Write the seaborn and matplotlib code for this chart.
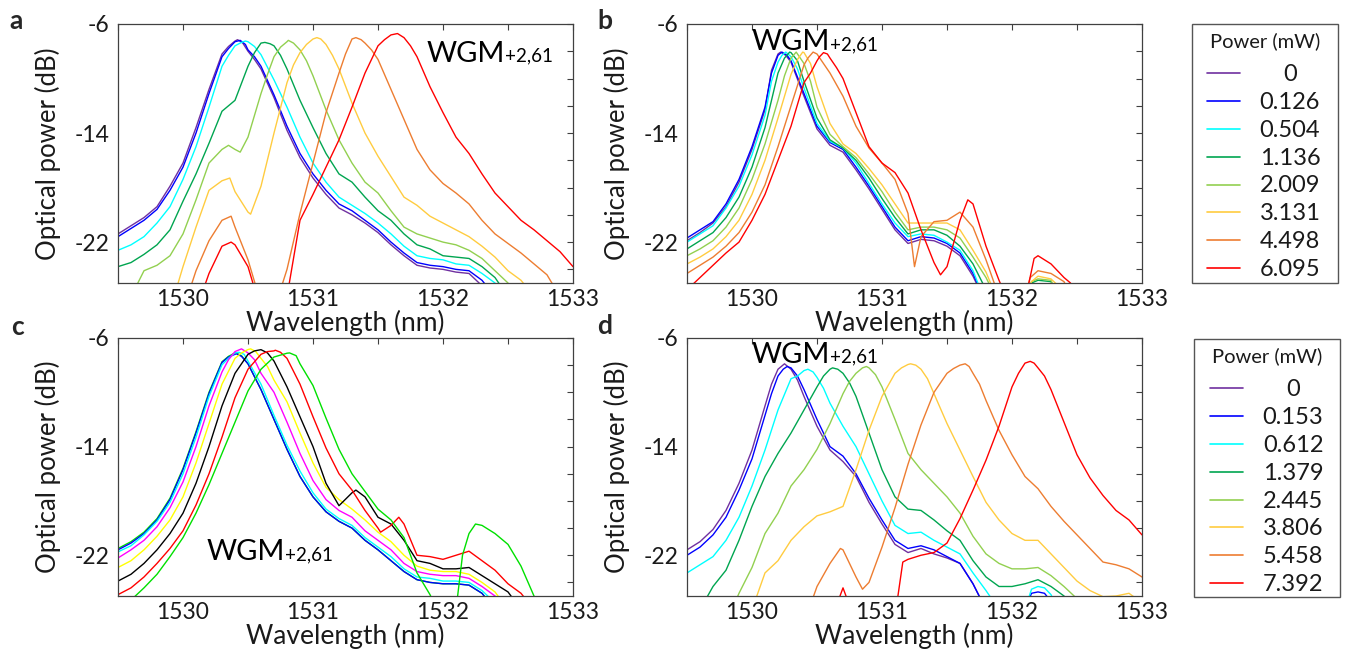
import matplotlib
matplotlib.use('Agg')
import matplotlib.pyplot as plt
import seaborn as sns
import pandas as pd
from matplotlib.ticker import MultipleLocator, FuncFormatter
from matplotlib.lines import Line2D
from matplotlib.patches import Rectangle

sns.set_theme(style='white')
plt.rcParams['font.family'] = ['Lato', 'DejaVu Sans']
plt.rcParams['axes.unicode_minus'] = False

# Common wavelength grid (nm)
wavelength = [1529.5, 1529.6, 1529.7, 1529.8, 1529.9, 1530.0, 1530.1, 1530.2, 1530.3, 1530.4,
              1530.5, 1530.6, 1530.7, 1530.8, 1530.9, 1531.0, 1531.1, 1531.2, 1531.3, 1531.4,
              1531.5, 1531.6, 1531.7, 1531.8, 1531.9, 1532.0, 1532.1, 1532.2, 1532.3, 1532.4,
              1532.5, 1532.6, 1532.7, 1532.8, 1532.9, 1533.0]

# ---------------- panel a ----------------
power_a = ['0', '0.126', '0.504', '1.136', '2.009', '3.131', '4.498', '6.095']
colors_ab = ['#7030a0', '#0000ff', '#00ffff', '#00a550', '#92d050', '#ffcc40', '#ed7d31', '#ff0000']
spec_a = [
    [-21.4, -20.8, -20.2, -19.4, -17.9, -16.2, -13.6, -10.8, -8.2, -7.25, -8.0, -9.3, -11.4, -13.8, -15.8,
     -17.3, -18.5, -19.5, -20.0, -20.6, -21.3, -22.2, -23.0, -23.7, -23.9, -24.0, -24.2, -24.3, -25.2, -26.5],
    [-21.6, -21.0, -20.4, -19.6, -18.2, -16.5, -14.0, -11.1, -8.4, -7.3, -7.9, -9.1, -11.2, -13.5, -15.5,
     -17.0, -18.2, -19.2, -19.7, -20.4, -21.1, -22.0, -22.8, -23.5, -23.7, -23.8, -24.0, -24.1, -24.8, -26.0],
    [-22.6, -22.2, -21.6, -20.6, -19.4, -17.4, -15.0, -12.1, -9.1, -7.6, -7.3, -8.25, -10.1, -12.1, -14.3,
     -16.2, -17.6, -18.7, -19.3, -19.9, -20.6, -21.4, -22.3, -23.0, -23.2, -23.3, -23.6, -23.7, -24.3, -25.0, -26.5],
    [-23.8, -23.5, -22.9, -22.2, -21.1, -19.0, -17.0, -14.75, -12.4, -11.6, -9.1, -7.4, -7.6, -9.3, -11.6,
     -13.6, -15.5, -17.0, -17.6, -18.7, -19.7, -20.4, -21.4, -22.2, -22.5, -23.0, -23.1, -23.2, -23.8, -24.6, -26.0],
    [-27, -26.0, -24.1, -23.7, -23.0, -21.4, -18.9, -16.2, -15.2, -15.2, -14.3, -11.1, -8.4, -7.3, -7.9,
     -9.8, -12.3, -14.5, -16.2, -17.6, -18.4, -19.7, -20.9, -21.4, -21.7, -22.0, -22.2, -22.6, -23.2, -24.1,
     -25.0, -26.5],
    [-27, -27, -27, -27, -27, -23.8, -20.9, -18.2, -17.5, -18.3, -19.8, -17.9, -14.0, -10.3, -8.1,
     -7.1, -7.5, -9.3, -11.8, -14.0, -15.7, -17.2, -18.7, -19.3, -20.1, -20.6, -21.1, -21.6, -22.3, -23.1,
     -24.1, -24.8, -26.0],
    [-27, -27, -27, -27, -27, -27, -24.1, -21.9, -20.4, -20.9, -23.3, -26.5, -27, -24.0, -19.9,
     -16.2, -12.5, -9.6, -7.1, -7.4, -8.6, -10.8, -13.0, -15.2, -16.7, -17.7, -18.4, -19.2, -20.4, -21.4,
     -22.1, -22.8, -23.6, -24.4, -26.0],
    [-27, -27, -27, -27, -27, -27, -27, -24.3, -22.3, -22.2, -23.8, -27, -27, -26.0, -20.4,
     -18.5, -16.5, -14.5, -12.1, -9.6, -7.6, -6.8, -7.0, -8.4, -10.6, -12.5, -14.3, -15.5, -17.0, -18.4,
     -19.4, -20.4, -21.1, -21.9, -22.7, -23.8],
]
# extra points read around peaks and narrow features
peaks_a = [
    [(1530.35, -7.65), (1530.42, -7.15), (1530.46, -7.4), (1530.55, -8.6)],
    [(1530.35, -7.8), (1530.44, -7.2), (1530.48, -7.5), (1530.55, -8.4)],
    [(1530.35, -8.3), (1530.45, -7.35), (1530.48, -7.25), (1530.55, -7.65)],
    [(1530.55, -8.1), (1530.63, -7.35), (1530.67, -7.45), (1530.75, -8.3)],
    [(1530.35, -14.9), (1530.44, -15.4), (1530.65, -9.7), (1530.75, -7.7), (1530.81, -7.2),
     (1530.85, -7.4), (1530.95, -8.7)],
    [(1530.36, -17.3), (1530.52, -19.95), (1530.85, -9.0), (1530.95, -7.5), (1531.03, -7.0),
     (1531.06, -7.1), (1531.15, -8.3)],
    [(1530.37, -20.1), (1531.25, -8.2), (1531.33, -7.0), (1531.37, -7.15), (1531.45, -7.9)],
    [(1530.37, -22.0), (1531.55, -7.15), (1531.65, -6.7), (1531.75, -7.6)],
]

# ---------------- panel b ----------------
spec_b = [
    [-21.9, -21.3, -20.6, -19.4, -17.6, -15.2, -12.3, -8.2, -8.8, -11.3, -13.7, -14.9, -15.4, -16.7, -18.1,
     -19.6, -21.1, -22.1, -21.8, -21.9, -22.3, -23.0, -24.5, -26.5],
    [-21.7, -21.1, -20.5, -19.2, -17.4, -15.0, -12.1, -8.3, -8.7, -11.1, -13.5, -14.7, -15.2, -16.5, -17.9,
     -19.4, -20.9, -21.9, -21.6, -21.7, -22.1, -22.8, -24.3, -26.5],
    [-22.0, -21.4, -20.8, -19.5, -17.9, -15.6, -12.7, -8.8, -8.4, -10.7, -13.3, -14.6, -15.1, -16.2, -17.7,
     -19.2, -20.6, -21.6, -21.4, -21.5, -22.0, -22.6, -24.1, -26.5],
    [-22.5, -21.9, -21.3, -20.2, -18.7, -16.5, -13.6, -9.6, -8.1, -10.2, -12.9, -14.5, -15.1, -16.0, -17.3,
     -18.8, -20.2, -21.4, -21.1, -21.1, -21.5, -22.3, -23.6, -25.5, -27, -27, -26.0, -24.8, -24.9, -27],
    [-23.0, -22.5, -21.9, -20.9, -19.5, -17.4, -14.8, -11.6, -8.5, -8.9, -12.1, -14.1, -15.0, -15.8, -17.0,
     -18.3, -19.8, -21.1, -20.9, -20.9, -21.1, -21.7, -23.1, -24.6, -26.5, -27, -26.0, -24.7, -24.8, -27],
    [-23.6, -23.1, -22.5, -21.6, -20.4, -18.5, -16.0, -12.9, -9.7, -8.1, -10.6, -13.3, -14.8, -15.5, -16.6,
     -17.8, -19.2, -20.6, -20.6, -20.6, -20.6, -21.1, -22.6, -24.2, -26.5, -27, -26.0, -24.5, -24.7, -25.6, -27],
    [-24.3, -23.7, -23.1, -22.3, -21.3, -19.8, -17.8, -15.0, -12.0, -9.0, -8.2, -9.6, -11.3, -13.5, -15.1,
     -16.2, -17.4, -19.9, -21.6, -20.5, -20.4, -19.8, -20.9, -23.3, -26.0, -27, -26.0, -24.1, -24.3, -24.9, -27],
    [-25.5, -24.6, -23.7, -22.8, -22.0, -20.4, -18.5, -16.0, -13.5, -10.3, -8.7, -8.5, -10.0, -12.5, -15.0,
     -16.2, -16.9, -18.4, -21.1, -23.5, -23.8, -20.4, -19.2, -22.3, -24.8, -27, -26.0, -23.0, -23.6, -24.6, -27],
]
peaks_b = [
    [(1530.15, -9.4), (1530.22, -8.06), (1530.26, -8.3)],
    [(1530.15, -9.6), (1530.23, -8.06), (1530.27, -8.3)],
    [(1530.15, -10.2), (1530.23, -8.3), (1530.26, -8.06), (1530.35, -9.3)],
    [(1530.25, -8.5), (1530.29, -8.06), (1530.35, -8.7), (1532.15, -25.0)],
    [(1530.25, -9.8), (1530.34, -8.06), (1530.45, -10.2), (1532.15, -24.9)],
    [(1530.35, -8.6), (1530.39, -8.06), (1530.45, -8.9), (1532.15, -24.9)],
    [(1530.43, -8.5), (1530.47, -8.06), (1530.55, -8.9), (1531.25, -23.8), (1532.14, -24.6)],
    [(1530.45, -9.6), (1530.52, -8.4), (1530.55, -8.1), (1530.58, -8.2), (1530.65, -9.2),
     (1531.45, -24.4), (1531.66, -18.9), (1532.13, -25.0), (1532.17, -23.2), (1532.25, -23.3),
     (1532.45, -25.0)],
]

# ---------------- panel c ----------------
colors_c = ['#00e000', '#0000ff', '#00ffff', '#ff00ff', '#ffff00', '#000000', '#ff0000', '#00e000']
spec_c = [
    [-21.5, -21.0, -20.3, -19.3, -17.8, -15.6, -12.9, -10.0, -7.75, -7.1, -7.9, -9.8, -12.0, -14.2, -16.2,
     -17.7, -18.8, -19.5, -20.0, -20.9, -21.6, -22.4, -23.2, -23.8, -24.0, -24.1, -24.1, -24.2, -24.8, -26.0],
    [-21.6, -21.1, -20.4, -19.4, -17.9, -15.7, -13.0, -10.1, -7.8, -7.2, -7.9, -9.8, -12.0, -14.2, -16.2,
     -17.7, -18.8, -19.5, -20.0, -20.9, -21.6, -22.4, -23.2, -23.8, -24.0, -24.1, -24.1, -24.2, -24.8, -26.0],
    [-21.75, -21.3, -20.5, -19.5, -18.1, -16.0, -13.3, -10.3, -7.97, -7.1, -7.7, -9.4, -11.7, -13.9, -15.8,
     -17.4, -18.6, -19.3, -19.8, -20.7, -21.4, -22.1, -23.0, -23.6, -23.7, -23.9, -23.9, -24.0, -24.6, -25.5],
    [-22.2, -21.6, -20.9, -19.9, -18.5, -16.6, -14.0, -11.0, -8.5, -7.0, -7.1, -8.6, -10.0, -12.2, -14.5,
     -16.5, -17.9, -18.7, -19.2, -20.2, -20.9, -21.6, -22.6, -23.2, -23.4, -23.5, -23.5, -23.7, -24.3, -25.0, -26.0],
    [-22.9, -22.4, -21.6, -20.6, -19.4, -17.7, -15.2, -12.3, -9.4, -7.5, -6.85, -7.5, -9.1, -10.7, -13.0,
     -15.2, -17.0, -17.9, -18.6, -19.4, -20.3, -21.0, -22.0, -22.8, -23.1, -23.2, -23.2, -23.4, -24.0, -24.7, -26.0],
    [-23.9, -23.4, -22.6, -21.6, -20.4, -18.9, -16.7, -14.0, -11.0, -8.6, -7.2, -6.86, -7.7, -9.6, -11.8,
     -14.0, -16.7, -18.35, -17.4, -17.7, -19.2, -19.7, -20.9, -22.4, -22.6, -23.0, -23.0, -22.9, -23.5, -24.1,
     -24.7, -26.0],
    [-24.9, -24.4, -23.6, -22.6, -21.5, -20.2, -18.3, -16.0, -13.3, -10.4, -8.3, -7.2, -6.95, -7.5, -9.4,
     -11.8, -14.1, -16.0, -17.2, -18.7, -20.0, -19.8, -19.7, -22.0, -22.1, -22.3, -22.0, -21.7, -22.4, -23.1,
     -24.1, -24.8, -26.0],
    [-26.0, -25.3, -24.4, -23.4, -22.1, -20.7, -18.9, -16.8, -14.5, -12.2, -9.9, -8.3, -7.4, -7.12, -7.9,
     -9.5, -11.9, -14.2, -16.0, -17.3, -18.6, -19.4, -20.7, -23.3, -24.9, -27, -26.0, -20.4, -19.8, -20.4,
     -21.2, -22.8, -25.0, -27],
]
peaks_c = [
    [(1530.35, -7.35), (1530.41, -7.1), (1530.45, -7.3)],
    [(1530.35, -7.4), (1530.41, -7.16), (1530.45, -7.35)],
    [(1530.35, -7.5), (1530.43, -7.05), (1530.47, -7.2)],
    [(1530.35, -7.6), (1530.45, -6.8), (1530.55, -7.6)],
    [(1530.45, -7.1), (1530.52, -6.8), (1530.56, -7.0), (1530.65, -8.1)],
    [(1530.55, -6.95), (1530.65, -7.1), (1531.33, -17.2)],
    [(1530.65, -7.0), (1530.71, -6.9), (1530.75, -7.05), (1531.52, -20.3), (1531.66, -19.2)],
    [(1530.82, -7.1), (1530.87, -7.3), (1532.15, -22.0), (1532.25, -19.7)],
]

# ---------------- panel d ----------------
power_d = ['0', '0.153', '0.612', '1.379', '2.445', '3.806', '5.458', '7.392']
spec_d = [
    [-21.6, -21.0, -20.1, -18.7, -16.7, -14.25, -11.0, -8.3, -8.3, -10.3, -12.5, -14.25, -15.1, -16.2, -18.1,
     -19.7, -21.2, -21.8, -21.5, -21.9, -22.2, -22.6, -24.1, -26.0],
    [-22.0, -21.4, -20.5, -19.2, -17.2, -14.9, -11.7, -8.8, -8.2, -9.8, -12.0, -14.0, -14.7, -16.0, -17.8,
     -19.4, -20.9, -21.5, -21.3, -21.6, -22.1, -22.6, -24.1, -26.0, -27, -27, -26.0, -24.7, -25.4, -27],
    [-23.3, -22.7, -22.1, -20.9, -19.2, -16.9, -14.25, -11.3, -9.0, -8.4, -8.9, -10.8, -12.5, -14.0, -16.0,
     -18.0, -19.8, -20.4, -20.3, -20.9, -21.4, -21.9, -23.3, -24.6, -26.0, -27, -26.0, -24.3, -24.9, -27],
    [-27, -26.0, -24.3, -23.1, -20.9, -18.4, -16.2, -14.5, -13.0, -11.3, -9.6, -8.3, -8.6, -10.3, -13.0,
     -15.7, -17.7, -18.6, -18.7, -19.4, -20.2, -20.9, -22.4, -23.6, -24.3, -24.3, -24.1, -23.8, -24.3, -25.0, -26.0],
    [-27, -27, -27, -27, -24.8, -22.9, -20.4, -18.9, -16.9, -15.7, -14.2, -12.3, -10.1, -8.6, -8.2,
     -9.6, -12.0, -14.5, -15.7, -16.7, -17.7, -18.9, -20.6, -21.9, -22.6, -23.0, -23.0, -22.9, -23.5, -24.3,
     -25.2, -26.5],
    [-27, -27, -27, -27, -27, -26.0, -23.3, -22.4, -20.9, -19.9, -19.1, -18.8, -18.4, -15.7, -12.8,
     -10.3, -8.6, -7.95, -8.3, -10.1, -12.3, -14.25, -16.2, -18.1, -19.4, -20.4, -20.9, -20.9, -21.9, -22.9,
     -23.9, -24.6, -25.05, -25.0, -24.8, -25.5],
    [-27, -27, -27, -27, -27, -27, -27, -27, -27, -27, -24.3, -22.6, -21.6, -23.6, -24.0,
     -21.4, -18.5, -15.3, -12.4, -10.0, -8.6, -8.0, -8.6, -10.6, -12.8, -14.6, -16.2, -17.1, -18.4, -19.5,
     -20.5, -21.5, -22.5, -22.7, -23.0, -23.6],
    [-27, -27, -27, -27, -27, -27, -27, -27, -27, -27, -27, -27, -24.4, -27, -27,
     -27, -26.5, -22.3, -22.0, -21.8, -21.1, -19.3, -17.2, -15.0, -12.5, -9.6, -7.85, -8.2, -9.8, -12.2,
     -14.6, -16.3, -17.6, -18.7, -19.4, -20.5],
]
peaks_d = [
    [(1530.15, -9.4), (1530.25, -7.9), (1530.35, -9.1)],
    [(1530.15, -10.1), (1530.24, -8.3), (1530.27, -8.1), (1530.35, -8.8), (1532.15, -24.8), (1532.25, -24.8)],
    [(1530.35, -8.8), (1530.43, -8.3), (1530.47, -8.5), (1530.55, -9.7), (1532.15, -24.5), (1532.25, -24.4)],
    [(1530.55, -8.8), (1530.62, -8.2), (1530.66, -8.3), (1530.75, -9.3)],
    [(1530.75, -9.2), (1530.85, -8.2), (1530.88, -8.1), (1530.95, -8.7)],
    [(1531.15, -8.2), (1531.22, -7.9), (1531.26, -8.0), (1531.35, -9.0)],
    [(1530.68, -21.5), (1530.85, -24.5), (1531.55, -8.25), (1531.64, -7.9), (1531.67, -8.1), (1531.75, -9.4)],
    [(1531.16, -22.5), (1532.05, -8.6), (1532.14, -7.72), (1532.17, -7.85), (1532.25, -8.8)],
]

# WGM label anchor (wavelength, dB) per panel
wgm_pos = {'a': (1532.48, -8.77), 'b': (1530.60, -7.91), 'c': (1530.785, -22.35), 'd': (1530.60, -7.82)}


def tabla(spectra, peaks, labels):
    filas = []
    for vals, extra, lab in zip(spectra, peaks, labels):
        for x, y in zip(wavelength, vals):
            filas.append((x, y, lab))
        for x, y in extra:
            filas.append((x, y, lab))
    return pd.DataFrame(filas, columns=['wl', 'db', 'power'])


def xfmt(v, pos):
    return '%d' % round(v) if abs(v - round(v)) < 1e-6 else ''


def yfmt(v, pos):
    return '%d' % round(v) if round(v) in (-6, -14, -22) else ''


W, H = 1345, 649
fig = plt.figure(figsize=(W / 100, H / 100), dpi=100)
boxes = {'a': (118, 24, 573, 283), 'b': (687, 24, 1142, 283),
         'c': (118, 338, 573, 596), 'd': (687, 338, 1142, 596)}

panels = {
    'a': (spec_a, peaks_a, colors_ab),
    'b': (spec_b, peaks_b, colors_ab),
    'c': (spec_c, peaks_c, colors_c),
    'd': (spec_d, peaks_d, colors_ab),
}

axes = {}
for key, (spec, peaks, cols) in panels.items():
    x0, y0, x1, y1 = boxes[key]
    ax = fig.add_axes([x0 / W, 1 - y1 / H, (x1 - x0) / W, (y1 - y0) / H])
    labels = ['%s%d' % (key, i) for i in range(len(spec))]
    df = tabla(spec, peaks, labels)
    sns.lineplot(data=df, x='wl', y='db', hue='power', hue_order=labels,
                 palette=dict(zip(labels, cols)), estimator=None, sort=True,
                 linewidth=1.0, legend=False, ax=ax)
    ax.set_xlim(1529.5, 1533)
    ax.set_ylim(-25, -6)
    ax.xaxis.set_major_locator(MultipleLocator(0.5))
    ax.yaxis.set_major_locator(MultipleLocator(2))
    ax.xaxis.set_major_formatter(FuncFormatter(xfmt))
    ax.yaxis.set_major_formatter(FuncFormatter(yfmt))
    ax.tick_params(direction='in', length=4, width=0.8, top=True, right=True,
                   labelsize=16.5, colors='#404040', labelcolor='#1a1a1a')
    ax.tick_params(axis='x', pad=4)
    ax.tick_params(axis='y', pad=6)
    for s in ax.spines.values():
        s.set_color('#404040')
        s.set_linewidth(0.9)
    ax.set_xlabel('Wavelength (nm)', fontsize=19, color='#1a1a1a', labelpad=0)
    ax.set_ylabel('Optical power (dB)', fontsize=18.5, color='#1a1a1a')
    ax.yaxis.set_label_coords(-0.125, 0.5)
    wx, wy = wgm_pos[key]
    ax.text(wx, wy, 'WGM', fontsize=21, ha='right', va='baseline', color='black')
    ax.text(wx, wy, '+2,61', fontsize=13.5, ha='left', va='baseline', color='black')
    axes[key] = ax

# panel letters
for key, (px, py) in {'a': (16, 21), 'b': (605, 21), 'c': (17, 327), 'd': (605, 326)}.items():
    fig.text(px / W, 1 - py / H, key, fontsize=19, fontweight='bold', ha='center', va='center')


# legends drawn as boxed keys to the right of panels b and d (pixel layout)
def leyenda(power, box, title_base, first_row, handle_x, text_x):
    x0, y0, x1, y1 = box
    fig.add_artist(Rectangle((x0 / W, 1 - y1 / H), (x1 - x0) / W, (y1 - y0) / H,
                             transform=fig.transFigure, fill=False, edgecolor='#555555', lw=1.0))
    fig.text((x0 + x1) / 2 / W, 1 - title_base / H, 'Power (mW)', fontsize=14.5,
             ha='center', va='baseline', color='#1a1a1a')
    for i, (c, p) in enumerate(zip(colors_ab, power)):
        ry = first_row + 27.95 * i
        fig.add_artist(Line2D([handle_x[0] / W, handle_x[1] / W], [1 - ry / H, 1 - ry / H],
                              transform=fig.transFigure, color=c, lw=1.2))
        fig.text(text_x / W, 1 - (ry + 8) / H, p, fontsize=17, ha='center', va='baseline',
                 color='#1a1a1a')


leyenda(power_a, (1192, 24, 1338, 283), 47.5, 72.7, (1207, 1240), 1290)
leyenda(power_d, (1194, 339, 1340, 597), 362, 387.7, (1210, 1243), 1293)

fig.savefig('out.png', dpi=100)
